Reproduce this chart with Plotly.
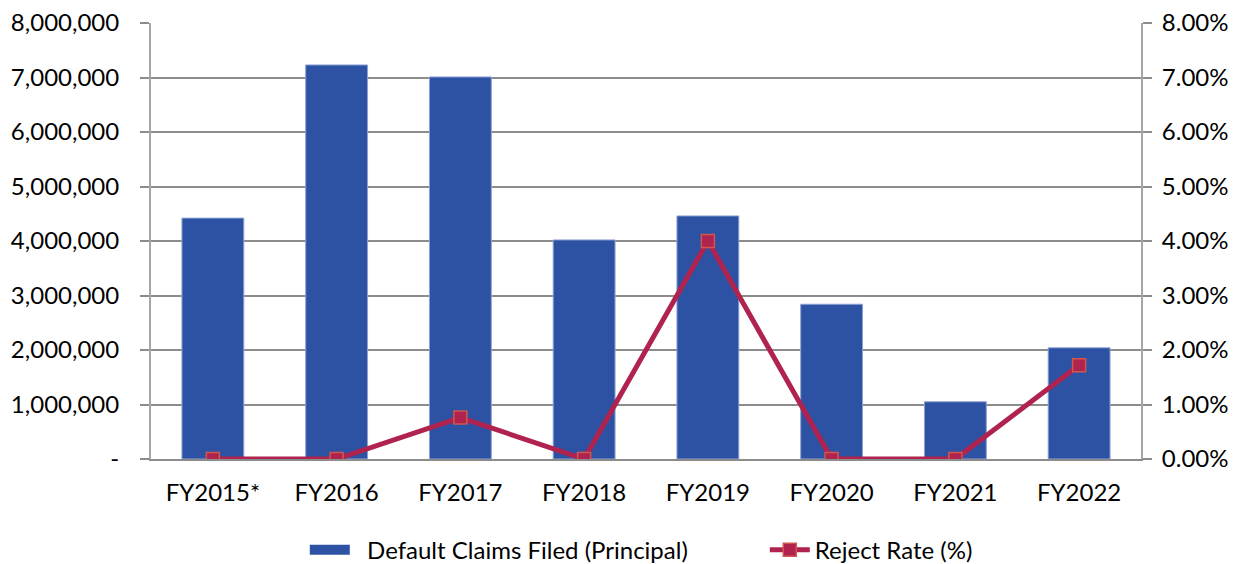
import plotly.graph_objects as go

categories = ["FY2015*", "FY2016", "FY2017", "FY2018", "FY2019", "FY2020", "FY2021", "FY2022"]
claims = [4420000, 7230000, 7010000, 4020000, 4460000, 2840000, 1050000, 2040000]
reject_rate = [0.0, 0.0, 0.0076, 0.0, 0.0400, 0.0, 0.0, 0.0172]

left_ticks = [0, 1000000, 2000000, 3000000, 4000000, 5000000, 6000000, 7000000, 8000000]
left_labels = ["-", "1,000,000", "2,000,000", "3,000,000", "4,000,000", "5,000,000",
               "6,000,000", "7,000,000", "8,000,000"]
right_ticks = [0, 0.01, 0.02, 0.03, 0.04, 0.05, 0.06, 0.07, 0.08]

BLUE = "#2E52A3"
RED = "#B0234F"
font = dict(family="Lato, Open Sans, sans-serif", size=24, color="#000000")

fig = go.Figure()
fig.add_trace(go.Bar(
    x=categories, y=claims, name="Default Claims Filed (Principal)",
    marker=dict(color=BLUE, line=dict(color="#8EA3D4", width=1)),
    yaxis="y", showlegend=False,
))
# legend stand-in for the bar series (wide rectangle swatch)
fig.add_trace(go.Scatter(
    x=[None], y=[None], name="\u00a0\u00a0Default Claims Filed (Principal)",
    mode="lines", line=dict(color=BLUE, width=16), yaxis="y", showlegend=True,
))
fig.add_trace(go.Scatter(
    x=categories, y=reject_rate, name="Reject Rate (%)", mode="lines+markers",
    line=dict(color=RED, width=5),
    marker=dict(symbol="square", size=13, color=RED,
                line=dict(color="#D0574E", width=1.5)),
    yaxis="y2",
))

fig.update_layout(
    width=1235, height=564,
    margin=dict(l=151, r=94, t=23, b=105, autoexpand=False),
    paper_bgcolor="white", plot_bgcolor="white",
    font=font,
    bargap=0.5,
    showlegend=True,
    legend=dict(orientation="h", x=0.62, xanchor="center", y=-0.209, yanchor="middle",
                font=font, itemwidth=40, tracegroupgap=0, entrywidth=405),
    xaxis=dict(showgrid=False, showline=True, linecolor="#8C8C8C", linewidth=2,
               ticks="", tickfont=font, mirror=False, automargin=False,
               ticklabelstandoff=11),
    yaxis=dict(range=[0, 8000000], tickvals=left_ticks, ticktext=left_labels,
               showgrid=True, gridcolor="#8C8C8C", gridwidth=2,
               showline=True, linecolor="#A6A6A6", linewidth=2,
               ticks="outside", ticklen=9, tickcolor="#8C8C8C", tickwidth=2,
               tickfont=font, zeroline=False, automargin=False,
               ticklabelstandoff=16),
    yaxis2=dict(range=[0, 0.08], tickvals=right_ticks, tickformat=".2%",
                overlaying="y", side="right", showgrid=False,
                showline=True, linecolor="#A6A6A6", linewidth=2,
                ticks="outside", ticklen=9, tickcolor="#8C8C8C", tickwidth=2,
                tickfont=font, zeroline=False, automargin=False,
                ticklabelstandoff=5),
)

fig.write_html("out.html")
